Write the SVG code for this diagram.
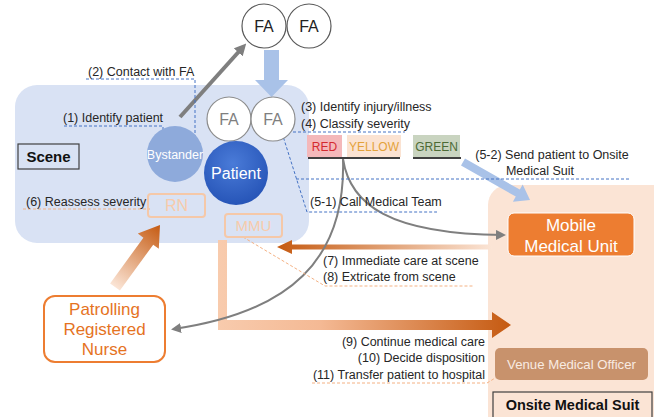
<svg xmlns="http://www.w3.org/2000/svg" width="654" height="417" viewBox="0 0 654 417">
<style>
text{font-family:"Liberation Sans",Arial,sans-serif}
.lbl{font-size:12.5px;fill:#262626}
.bd{stroke:#4472c4;stroke-width:1;stroke-dasharray:3,2;fill:none}
.od{stroke:#f4b183;stroke-width:1;stroke-dasharray:3,2;fill:none}
.fa{fill:#fff;stroke:#595959;stroke-width:1.2}
.fa2{fill:#fff;stroke:#8c8c8c;stroke-width:1.2}
.c{text-anchor:middle}
.gc{stroke:#7f7f7f;stroke-width:2;fill:none}
</style>
<defs>
<marker id="ga" viewBox="0 0 10 10" refX="7" refY="5" markerWidth="5" markerHeight="5" orient="auto" markerUnits="strokeWidth"><path d="M0,0 L10,5 L0,10 Z" fill="#7f7f7f"/></marker>
<marker id="gaT" viewBox="0 0 10 10" refX="6" refY="5" markerWidth="3" markerHeight="3" orient="auto" markerUnits="strokeWidth"><path d="M0,0 L10,5 L0,10 Z" fill="#7f7f7f"/></marker>
<linearGradient id="g7" gradientUnits="userSpaceOnUse" x1="277" y1="0" x2="492" y2="0"><stop offset="0" stop-color="#c55a11"/><stop offset="1" stop-color="#fbe5d6"/></linearGradient>
<linearGradient id="g9" gradientUnits="userSpaceOnUse" x1="218" y1="0" x2="511" y2="0"><stop offset="0" stop-color="#f8cbad"/><stop offset="0.35" stop-color="#f4b994"/><stop offset="1" stop-color="#c55a11"/></linearGradient>
<linearGradient id="gRN" gradientUnits="userSpaceOnUse" x1="115" y1="287" x2="160" y2="225"><stop offset="0" stop-color="#fbe5d6"/><stop offset="1" stop-color="#c55a11"/></linearGradient>
<radialGradient id="gPat" cx="0.45" cy="0.35" r="0.7"><stop offset="0" stop-color="#4a7bd8"/><stop offset="1" stop-color="#2452b5"/></radialGradient>
</defs>

<g id="onsite-area"><rect x="488" y="185" width="200" height="260" rx="20" fill="#fbe4d5"/></g>
<g id="scene-area"><rect x="15" y="85" width="294" height="158" rx="22" fill="#d9e2f4"/></g>

<g id="connectors">
<path d="M218,240 H227 V320 H492 V312 L511,325 L492,338 V330 H218 Z" fill="url(#g9)"/>
<path d="M277,247 L292,240 V244.5 H492 V249.5 H292 V254 Z" fill="url(#g7)"/>
<polygon points="110.1,283.5 143.4,237.7 137.8,233.6 160,225 158.8,248.8 153.2,244.7 119.9,290.5" fill="url(#gRN)"/>
<polygon points="264,50 279,50 279,80 288,80 271.5,97 255,80 264,80" fill="#a9c2e8"/>
<polygon points="465.0,158.5 519.8,189.6 522.7,184.4 530,200 512.9,201.8 515.8,196.6 461.0,165.5" fill="#a9c2e8"/>
<line x1="180" y1="117" x2="243" y2="47" stroke="#7f7f7f" stroke-width="4" marker-end="url(#gaT)"/>
<path class="gc" d="M343,159 C346,260 290,312 174,329" marker-end="url(#ga)"/>
<path class="gc" d="M343,159 C350,205 390,234 503,235" marker-end="url(#ga)"/>
<path class="bd" d="M86,79 H195 V143"/>
<path class="bd" d="M64,126 H163 V140"/>
<path class="bd" d="M293,132 H405"/>
<path class="bd" d="M296,179 H630"/>
<path class="bd" d="M282,133 L307,212 H437"/>
<path class="od" d="M23,209 H150"/>
<path class="od" d="M243,237 L325,286 H473"/>
<path class="od" d="M312,383 H487 L505,372"/>
<line x1="308" y1="158" x2="400" y2="158" stroke="#404040" stroke-width="2"/>
<line x1="413" y1="158" x2="461" y2="158" stroke="#404040" stroke-width="2"/>
</g>

<g id="fa-top-1"><circle class="fa" cx="264" cy="26" r="22"/><text class="c" x="264" y="32" font-size="16" fill="#222">FA</text></g>
<g id="fa-top-2"><circle class="fa" cx="309" cy="26" r="22"/><text class="c" x="309" y="32" font-size="16" fill="#222">FA</text></g>
<g id="fa-scene-1"><circle class="fa2" cx="229" cy="119" r="22"/><text class="c" x="229" y="125" font-size="16" fill="#7f7f7f">FA</text></g>
<g id="fa-scene-2"><circle class="fa2" cx="273" cy="119" r="22"/><text class="c" x="273" y="125" font-size="16" fill="#7f7f7f">FA</text></g>
<g id="bystander"><circle cx="175" cy="154" r="28" fill="#8eaadb"/><text class="c" x="175" y="159" font-size="12.5" fill="#fff">Bystander</text></g>
<g id="patient"><circle cx="236" cy="173" r="32" fill="url(#gPat)"/><text class="c" x="236" y="179" font-size="16" fill="#fff">Patient</text></g>
<g id="scene-label"><rect x="18" y="144" width="61" height="25" fill="#d9e2f4" stroke="#404040" stroke-width="1.2"/><text class="c" x="48.5" y="162" font-size="15" font-weight="bold" fill="#111">Scene</text></g>
<g id="rn"><rect x="148" y="194" width="57" height="23" rx="3" fill="none" stroke="#f5c8a8" stroke-width="2"/><text class="c" x="176.5" y="211" font-size="16" fill="#f7cbab">RN</text></g>
<g id="mmu"><rect x="225" y="214" width="57" height="23" rx="3" fill="none" stroke="#f5c8a8" stroke-width="2"/><text class="c" x="253.5" y="231" font-size="15" fill="#f7cbab">MMU</text></g>

<g id="red"><rect x="307" y="135" width="35" height="22" fill="#f4b8ba"/><text class="c" x="324.5" y="151" font-size="12" fill="#d42a2f">RED</text></g>
<g id="yellow"><rect x="347" y="135" width="54" height="22" fill="#fbe3d2"/><text class="c" x="374" y="151" font-size="12" fill="#e3a23a">YELLOW</text></g>
<g id="green"><rect x="413" y="135" width="47" height="22" fill="#c9d4c0"/><text class="c" x="436.5" y="151" font-size="12" fill="#4d6b35">GREEN</text></g>

<g id="mobile-medical-unit"><rect x="508" y="213" width="126" height="43" rx="6" fill="#ed7d31" stroke="#fff" stroke-width="1"/><text class="c" x="571" y="231" font-size="17" fill="#fff">Mobile</text><text class="c" x="571" y="252" font-size="17" fill="#fff">Medical Unit</text></g>
<g id="venue-medical-officer"><rect x="495" y="348" width="153" height="32" rx="5" fill="#c8926c"/><text class="c" x="571.5" y="369" font-size="13.2" fill="#f8ebe2">Venue Medical Officer</text></g>
<g id="onsite-label"><rect x="493" y="392" width="159" height="30" fill="#fbe4d5" stroke="#404040" stroke-width="1.2"/><text class="c" x="572.5" y="410" font-size="14.5" font-weight="bold" fill="#111">Onsite Medical Suit</text></g>
<g id="patrolling-rn"><rect x="44" y="296" width="121" height="66" rx="11" fill="#fff" stroke="#ed7d31" stroke-width="2"/><text class="c" x="104.5" y="315" font-size="17" fill="#e5731f">Patrolling</text><text class="c" x="104.5" y="335" font-size="17" fill="#e5731f">Registered</text><text class="c" x="104.5" y="355" font-size="17" fill="#e5731f">Nurse</text></g>

<g id="labels">
<text class="lbl" x="88" y="76">(2) Contact with FA</text>
<text class="lbl" x="63" y="122">(1) Identify patient</text>
<text class="lbl" x="301" y="111">(3) Identify injury/illness</text>
<text class="lbl" x="301" y="128">(4) Classify severity</text>
<text class="lbl c" x="552" y="159">(5-2) Send patient to Onsite</text>
<text class="lbl c" x="540" y="175">Medical Suit</text>
<text class="lbl" x="310" y="206">(5-1) Call Medical Team</text>
<text class="lbl" x="26" y="206">(6) Reassess severity</text>
<text class="lbl" x="323" y="265">(7) Immediate care at scene</text>
<text class="lbl" x="323" y="281">(8) Extricate from scene</text>
<text class="lbl" x="485" y="346" text-anchor="end">(9) Continue medical care</text>
<text class="lbl" x="485" y="362" text-anchor="end">(10) Decide disposition</text>
<text class="lbl" x="485" y="379" text-anchor="end">(11) Transfer patient to hospital</text>
</g>
</svg>
